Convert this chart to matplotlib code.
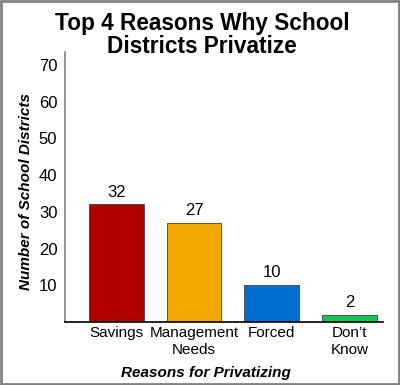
import matplotlib
matplotlib.use("Agg")
import matplotlib.pyplot as plt
from matplotlib.patches import Rectangle

categories = ["Savings", "Management\nNeeds", "Forced", "Don\u2019t\nKnow"]
values = [32, 27, 10, 2]
colors = ["#B00000", "#F0A800", "#0070D0", "#10C850"]
yticks = [10, 20, 30, 40, 50, 60, 70]

plt.rcParams['font.family'] = ['Liberation Sans', 'DejaVu Sans']

fig = plt.figure(figsize=(4.0, 3.85), dpi=100)
W, H = 400, 385
ax = fig.add_axes([65 / W, 1 - 322 / H, (383 - 65) / W, (322 - 52) / H])

x = list(range(len(categories)))
bars = ax.bar(x, values, width=0.705, color=colors, edgecolor="#404040", linewidth=0.6)
for xi, v in zip(x, values):
    ax.annotate(str(v), (xi, v), xytext=(0, 3.5), textcoords="offset points",
                ha="center", va="bottom", fontsize=12)

ax.set_xlim(-0.66, 3.43)
ax.set_ylim(0, 73.5)
ax.set_yticks(yticks)
ax.set_yticklabels([str(t) for t in yticks], fontsize=12)
ax.set_xticks(x)
ax.set_xticklabels(categories, fontsize=11, linespacing=1.25)
ax.tick_params(axis="both", length=0)
ax.tick_params(axis="y", pad=5.5)
ax.tick_params(axis="x", pad=3)

for s in ["top", "right"]:
    ax.spines[s].set_visible(False)
ax.spines["left"].set_color("#808080")
ax.spines["left"].set_linewidth(1.2)
ax.spines["bottom"].set_color("black")
ax.spines["bottom"].set_linewidth(1.2)

fig.text(26 / W, 1 - 191 / H, "Number of School Districts", rotation=90,
         ha="center", va="center", fontsize=11, fontweight="bold", fontstyle="italic")
fig.text(206 / W, 1 - 373 / H, "Reasons for Privatizing",
         ha="center", va="center", fontsize=11, fontweight="bold", fontstyle="italic")

fig.text(202 / W, 1 - 35 / H, "Top 4 Reasons Why School\nDistricts Privatize",
         ha="center", va="center", fontsize=16.3, fontweight="bold", linespacing=1.05)

fig.patches.append(Rectangle((0.002, 0.002), 0.995, 0.995, transform=fig.transFigure,
                             fill=False, edgecolor="#808080", linewidth=2))

fig.savefig("out.png", dpi=100)
